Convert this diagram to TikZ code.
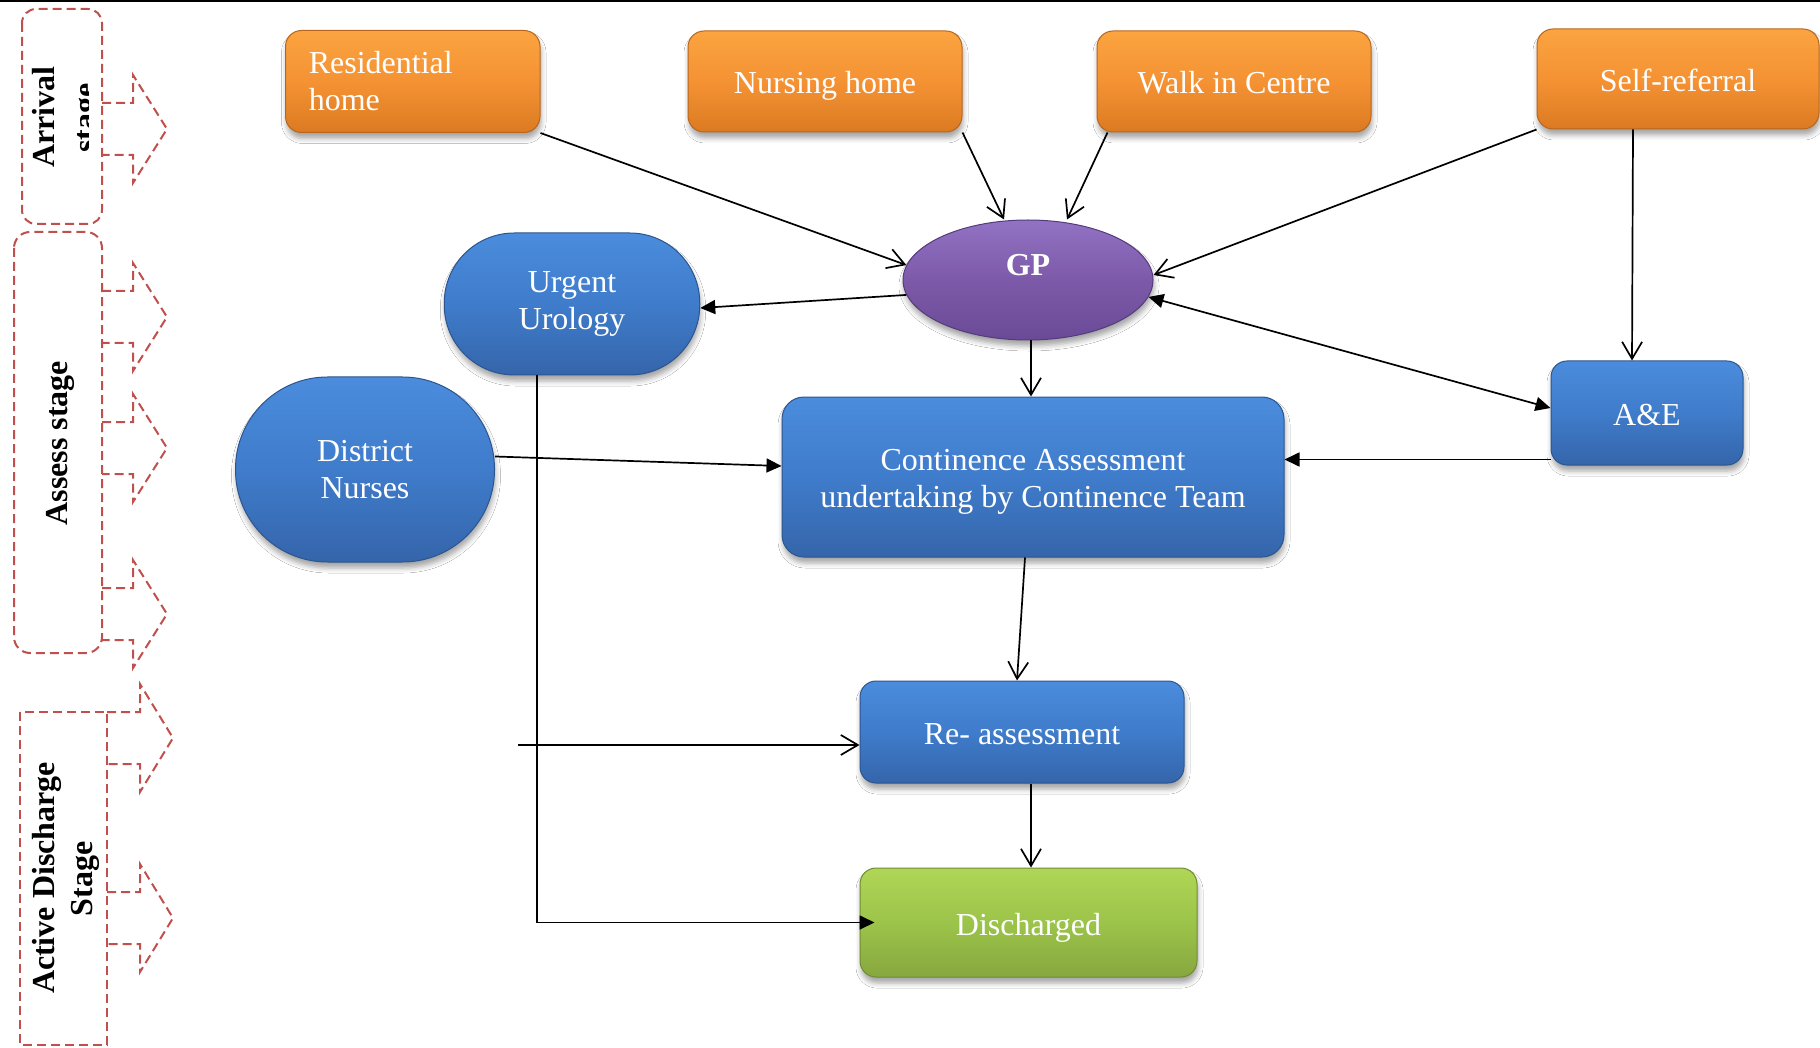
\documentclass[tikz,border=0pt]{standalone}
\usepackage{fontspec}
\setmainfont{Liberation Serif}
\usetikzlibrary{arrows.meta,shapes.geometric,shadows.blur}

\definecolor{stagered}{HTML}{C0504D}
\definecolor{orangetop}{HTML}{FBA440}
\definecolor{orangemid}{HTML}{F49234}
\definecolor{orangebot}{HTML}{DC7A22}
\definecolor{orangeedge}{HTML}{B8651E}
\definecolor{bluetop}{HTML}{4B8CDC}
\definecolor{bluemid}{HTML}{3F7CCB}
\definecolor{bluebot}{HTML}{3565AA}
\definecolor{blueedge}{HTML}{2C5590}
\definecolor{purpletop}{HTML}{9272C4}
\definecolor{purplemid}{HTML}{7D5AA9}
\definecolor{purplebot}{HTML}{6A4A96}
\definecolor{purpleedge}{HTML}{553B7C}
\definecolor{greentop}{HTML}{AFD655}
\definecolor{greenmid}{HTML}{9CC44A}
\definecolor{greenbot}{HTML}{87A73F}
\definecolor{greenedge}{HTML}{6F8C33}

\tikzset{
  nodefont/.style={font=\fontsize{32}{37}\selectfont},
  boxbase/.style={nodefont, text=white, draw, line width=1pt, inner sep=0pt, align=center,
    blur shadow={shadow xshift=1pt, shadow yshift=-6pt, shadow blur radius=5pt, shadow opacity=35}},
  oneline/.style={text height=26pt, text depth=1pt},
  orangebox/.style={boxbase, rounded corners=16pt, draw=orangeedge,
    top color=orangetop, bottom color=orangebot, middle color=orangemid},
  bluebox/.style={boxbase, rounded corners=16pt, draw=blueedge,
    top color=bluetop, bottom color=bluebot, middle color=bluemid},
  greenbox/.style={boxbase, rounded corners=16pt, draw=greenedge,
    top color=greentop, bottom color=greenbot, middle color=greenmid},
  purplebox/.style={boxbase, ellipse, draw=purpleedge,
    top color=purpletop, bottom color=purplebot, middle color=purplemid},
  boxlabel/.style={nodefont, text=white, inner sep=0pt, align=center},
  stageline/.style={draw=stagered, line width=2pt, dash pattern=on 9pt off 5pt},
  stagetext/.style={font=\fontsize{32}{37}\selectfont\bfseries, text=black, inner sep=0pt},
  conn/.style={line width=1.7pt, draw=black},
  openhead/.style={conn, -{Straight Barb[length=17pt,width=20pt]}},
  filledhead/.style={conn, -{Triangle[length=15pt,width=14pt]}},
  bothfilled/.style={conn, {Triangle[length=15pt,width=14pt]}-{Triangle[length=15pt,width=14pt]}},
}

\begin{document}
\begin{tikzpicture}[x=1pt,y=-1pt]
\useasboundingbox (0,0) rectangle (1820,1048);
\fill[white] (0,0) rectangle (1820,1048);

% rule along the top edge
\draw[line width=2pt] (0,1) -- (1820,1);

% ---- stage column ----
\draw[stageline, rounded corners=14pt] (22,9) rectangle (102,224);
\draw[stageline, rounded corners=16pt] (14,232) rectangle (102,653);
\draw[stageline] (20,712) rectangle (107,1045);

\foreach \ty in {129,317,448,614}
  \draw[stageline] (102,\ty-26) -- (133,\ty-26) -- (133,\ty-54) -- (167,\ty)
                   -- (133,\ty+54) -- (133,\ty+26) -- (102,\ty+26);
\foreach \ty in {738,918}
  \draw[stageline] (107,\ty-26) -- (140,\ty-26) -- (140,\ty-54) -- (173,\ty)
                   -- (140,\ty+54) -- (140,\ty+26) -- (107,\ty+26);

\node[stagetext, rotate=90, anchor=base] (arrlbl) at (54,117) {Arrival};
\begin{scope}
  \clip (60,60) rectangle (88,180);
  \node[stagetext, rotate=90, anchor=base] (arrlbl2) at (95,118) {stage};
\end{scope}
\node[stagetext, rotate=90, anchor=base] (asslbl) at (67,443) {Assess stage};
\node[stagetext, rotate=90, anchor=base] (dislbl) at (54,878) {Active Discharge};
\node[stagetext, rotate=90, anchor=base] (dislbl2) at (92,879) {Stage};

% ---- arrival sources ----
\node[orangebox, minimum width=254.5pt, minimum height=102pt, text width=208pt, align=left]
  (res) at (412.75,81.5) {Residential\\home};
\node[orangebox, oneline, minimum width=274pt, minimum height=101pt] (nur) at (825,81.5) {Nursing home};
\node[orangebox, oneline, minimum width=274pt, minimum height=101pt] (walk) at (1234,81.5) {Walk in Centre};
\node[orangebox, oneline, minimum width=282pt, minimum height=100pt] (self) at (1678,79) {Self-referral};

% ---- assessment ----
\node[purplebox, minimum width=250pt, minimum height=120pt] (gp) at (1028,280) {};
\node[boxlabel, font=\fontsize{32}{37}\selectfont\bfseries] (gptext) at (1028,265) {GP};
\node[bluebox, rounded corners=70pt, minimum width=255.5pt, minimum height=142pt]
  (uro) at (572,304) {Urgent\\Urology};
\node[bluebox, rounded corners=92pt, minimum width=259pt, minimum height=185pt]
  (dn) at (365,469.5) {District\\Nurses};
\node[bluebox, rounded corners=22pt, minimum width=502pt, minimum height=160pt]
  (cont) at (1033,477) {};
\node[boxlabel] (conttext) at (1033,481.5) {Continence Assessment\\undertaking by Continence Team};
\node[bluebox, oneline, minimum width=192pt, minimum height=104pt] (ae) at (1647,413) {A\&E};

% ---- discharge ----
\node[bluebox, oneline, minimum width=324pt, minimum height=102pt] (re) at (1022,732) {Re- assessment};
\node[greenbox, oneline, minimum width=337pt, minimum height=109pt] (dis) at (1028.5,922.5) {Discharged};

% ---- connectors ----
\draw[openhead] (res.south east) -- (gp.173);
\draw[openhead] (nur.south east) -- ([xshift=-24pt]gp.north);
\draw[openhead] ([xshift=11pt]walk.south west) -- ([xshift=39pt]gp.north);
\draw[openhead] (self.south west) -- ([yshift=5pt]gp.east);
\draw[openhead] ([xshift=-45pt]self.south) -- ([xshift=-15pt]ae.north);
\draw[bothfilled] (gp.-8) -- ([yshift=5pt]ae.west);
\draw[filledhead] (gp.187) -- ([yshift=-4pt]uro.east);
\draw[openhead] ([xshift=3pt]gp.south) -- ([xshift=3pt]gp.south |- cont.north);
\draw[filledhead] ([yshift=13pt]dn.east) -- ([yshift=11pt]cont.west);
\coordinate (aeout) at ([yshift=6pt]ae.south west);
\draw[filledhead] (aeout) -- (aeout -| cont.east);
\draw[openhead] ([xshift=-8pt]cont.south) -- ([xshift=-5pt]re.north);
\draw[openhead] ([xshift=2.5pt]dis.north |- re.south) -- ([xshift=2.5pt]dis.north);
\draw[filledhead] ([xshift=-35pt]uro.south) |- ([xshift=15pt]dis.west);
\coordinate (reentry) at (518,745);
\draw[openhead] (reentry) -- (reentry -| re.west);
\end{tikzpicture}
\end{document}
